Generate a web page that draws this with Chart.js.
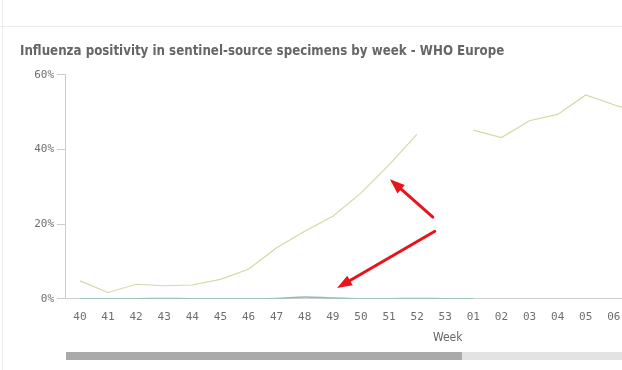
<!DOCTYPE html>
<html>
<head>
<meta charset="utf-8">
<script src="https://cdn.jsdelivr.net/npm/chart.js@4.4.0/dist/chart.umd.min.js"></script>
<style>
  html, body { margin: 0; padding: 0; background: #fff; overflow: hidden; }
  #wrap { position: relative; width: 622px; height: 370px; }
  #topline { position: absolute; left: 0; top: 26px; width: 622px; height: 1px; background: #ececec; }
  #leftline { position: absolute; left: 2px; top: 0; width: 1px; height: 370px; background: #ececec; }
  #chart { position: absolute; left: 0; top: 0; }
  #xtitle { position: absolute; top: 330px; left: 433px; font: 12px "DejaVu Sans Condensed", "Liberation Sans Narrow", Roboto, sans-serif; color: #666; }
  #bar1 { position: absolute; left: 66px; top: 352px; width: 396px; height: 8px; background: #aaaaaa; }
  #bar2 { position: absolute; left: 462px; top: 352px; width: 160px; height: 8px; background: #e3e3e3; }
</style>
</head>
<body>
<div id="wrap">
  <div id="topline"></div>
  <div id="leftline"></div>
  <canvas id="chart" width="622" height="370"></canvas>
  <div id="xtitle">Week</div>
  <div id="bar1"></div>
  <div id="bar2"></div>
</div>
<script>
// weeks 40..53 of the season, then 01..07 (07 runs off the scrolled view)
const weeks = ['40','41','42','43','44','45','46','47','48','49','50','51','52','53','01','02','03','04','05','06','07'];
// positivity %, current season (no data for week 53)
const positivity = [4.8, 1.7, 3.9, 3.5, 3.7, 5.2, 7.9, 13.7, 18.1, 22.1, 28.3, 35.9, 44.1, null, 45.2, 43.2, 47.7, 49.4, 54.6, 52.0, 49.5];
// second series, close to zero, ends at week 01
const otherSeries = [0, 0, 0, 0.1, 0, 0, 0, 0.1, 0.5, 0.2, 0, 0, 0.1, 0, 0, null, null, null, null, null, null];
const yTicks = [0, 20, 40, 60];
// red arrows pasted on the screenshot, in (week index, %) units
const arrows = [
    { from: [12.56, 21.9], to: [11.03, 32.0] },
    { from: [12.63, 18.1], to: [9.15, 2.9] }
];

// visible window of the scrolled axis
const xMin = -0.53, xMax = 19.29;
const toPoints = arr => arr.map((v, i) => ({ x: i, y: v }));

const arrowPlugin = {
    id: 'arrows',
    afterDatasetsDraw(chart) {
        const c = chart.ctx, xs = chart.scales.x, ys = chart.scales.y;
        c.save();
        c.strokeStyle = '#e8141a';
        c.fillStyle = '#e8141a';
        c.lineWidth = 3;
        c.lineCap = 'round';
        arrows.forEach(a => {
            const x1 = xs.getPixelForValue(a.from[0]), y1 = ys.getPixelForValue(a.from[1]);
            const x2 = xs.getPixelForValue(a.to[0]), y2 = ys.getPixelForValue(a.to[1]);
            const ang = Math.atan2(y2 - y1, x2 - x1);
            const head = 15, half = 5.5;
            const bx = x2 - head * Math.cos(ang), by = y2 - head * Math.sin(ang);
            c.beginPath();
            c.moveTo(x1, y1);
            c.lineTo(bx, by);
            c.stroke();
            c.beginPath();
            c.moveTo(x2, y2);
            c.lineTo(bx + half * Math.sin(ang), by - half * Math.cos(ang));
            c.lineTo(bx - half * Math.sin(ang), by + half * Math.cos(ang));
            c.closePath();
            c.fill();
        });
        c.restore();
    }
};

const ctx = document.getElementById('chart').getContext('2d');
new Chart(ctx, {
    type: 'line',
    data: {
        datasets: [{
            label: 'Positivity',
            data: toPoints(positivity),
            borderColor: '#d3d9a3',
            borderWidth: 1.2,
            pointRadius: 0,
            tension: 0,
            spanGaps: false
        }, {
            label: 'Other',
            data: toPoints(otherSeries),
            borderColor: '#8dbcba',
            borderWidth: 1.6,
            pointRadius: 0,
            tension: 0.3,
            spanGaps: false
        }]
    },
    plugins: [arrowPlugin],
    options: {
        responsive: false,
        animation: false,
        layout: { padding: { left: 20, right: 0, top: 44, bottom: 34 } },
        plugins: {
            legend: { display: false },
            tooltip: { enabled: false },
            title: {
                display: true,
                text: 'Influenza positivity in sentinel-source specimens by week - WHO Europe',
                align: 'start',
                color: '#666',
                font: { family: '"DejaVu Sans Condensed", "Liberation Sans Narrow", Roboto, sans-serif', size: 13.2, weight: 'bold' },
                padding: { top: 0, bottom: 15 }
            }
        },
        scales: {
            x: {
                type: 'linear',
                min: xMin,
                max: xMax,
                afterBuildTicks: function(scale) {
                    scale.ticks = weeks.map((w, i) => ({ value: i })).filter(t => t.value <= xMax);
                },
                afterFit: function(scale) {
                    // the axis runs on past the right edge, so no room kept for the last label
                    scale.paddingRight = 0;
                    scale.paddingLeft = 0;
                },
                grid: { display: false, drawTicks: false },
                border: { display: true, color: '#d0d0d0' },
                ticks: {
                    autoSkip: false,
                    maxRotation: 0,
                    padding: 12,
                    color: '#6e6e6e',
                    font: { family: '"DejaVu Sans Mono", monospace', size: 11 },
                    callback: function(value) {
                        return weeks[value];
                    }
                }
            },
            y: {
                min: 0,
                max: 60,
                afterBuildTicks: function(scale) {
                    scale.ticks = yTicks.map(v => ({ value: v }));
                },
                afterFit: function(scale) {
                    scale.width = 45;
                },
                grid: { drawOnChartArea: false, drawTicks: true, tickLength: 8, color: '#cccccc' },
                border: { display: true, color: '#cccccc' },
                ticks: {
                    padding: 3,
                    color: '#6e6e6e',
                    font: { family: '"DejaVu Sans Mono", monospace', size: 11 },
                    callback: function(value) {
                        return value + '%';
                    }
                }
            }
        }
    }
});
</script>
</body>
</html>
